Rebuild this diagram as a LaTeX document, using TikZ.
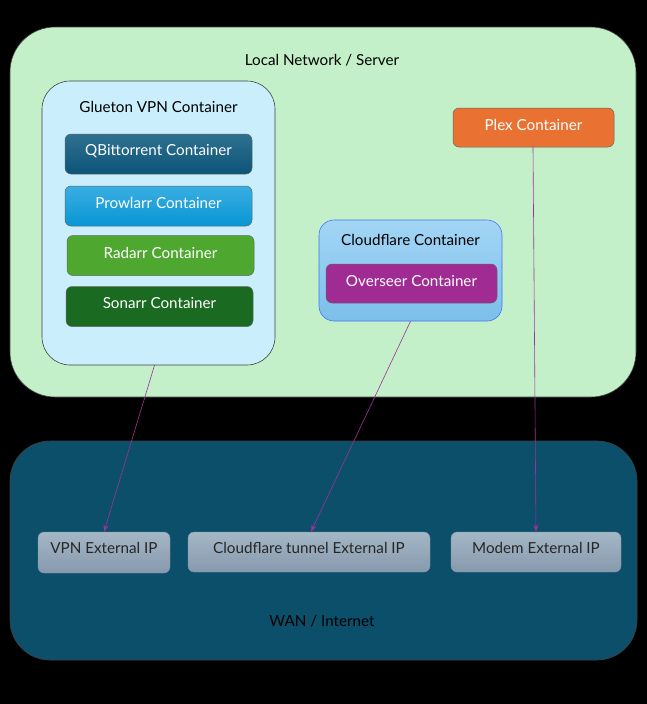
\documentclass[tikz,border=0pt]{standalone}
\usepackage{fontspec}
\setmainfont{Lato}
\usepackage{xcolor}
\usetikzlibrary{arrows.meta}
\definecolor{langreen}{HTML}{C3F0C8}
\definecolor{wanteal}{HTML}{0B4F6B}
\definecolor{gluetonblue}{HTML}{CAEEFB}
\definecolor{qbittop}{HTML}{2F7090}
\definecolor{qbitbot}{HTML}{0B5578}
\definecolor{prowtop}{HTML}{3AAEE2}
\definecolor{prowbot}{HTML}{0896D4}
\definecolor{radarrgreen}{HTML}{4EA72E}
\definecolor{sonarrgreen}{HTML}{1B6A22}
\definecolor{plexorange}{HTML}{E97132}
\definecolor{cftop}{HTML}{A3D5F5}
\definecolor{cfbot}{HTML}{7BBFEB}
\definecolor{overseerpurple}{HTML}{A02B93}
\definecolor{iptop}{HTML}{A4B7C6}
\definecolor{ipbot}{HTML}{8799AD}
\definecolor{linkpurple}{HTML}{A0309A}

\begin{document}
\begin{tikzpicture}[x=1pt,y=-1pt,font=\fontsize{15.2}{18}\selectfont,
  zone/.style={draw=black!75, line width=0.6pt, inner sep=0pt},
  cbox/.style={draw=black!60, line width=0.5pt, rounded corners=6pt, inner sep=0pt,
    text=white, minimum width=187pt, minimum height=40pt},
  ipbox/.style={draw=iptop!80!black, line width=0.4pt, rounded corners=6pt, inner sep=0pt,
    top color=iptop, bottom color=ipbot, text=black!85, minimum height=41pt},
  link/.style={draw=linkpurple, line width=0.6pt, -{Stealth[length=7pt,width=5pt]}}]
% background
\fill[black] (0,0) rectangle (647,704);
% zones
\node[zone, fill=langreen, rounded corners=45pt, minimum width=626pt, minimum height=370pt] (lan) at (323,212) {};
\node[zone, fill=wanteal, rounded corners=40pt, minimum width=627pt, minimum height=219pt] (wan) at (323.5,550.5) {};
\node at (322,60) {Local Network / Server};
\node at (322,621) {WAN / Internet};
% glueton
\node[zone, fill=gluetonblue, rounded corners=28pt, minimum width=233pt, minimum height=284pt] (glueton) at (158.5,223) {};
\node at (158.5,107) {Glueton VPN Container};
\node[cbox, top color=qbittop, bottom color=qbitbot] (qbit) at (158.5,154) {};
\node[white] at (158.5,151) {QBittorrent Container};
\node[cbox, top color=prowtop, bottom color=prowbot] (prowlarr) at (158.5,206) {};
\node[white] at (158.5,203) {Prowlarr Container};
\node[cbox, fill=radarrgreen] (radarr) at (160.5,255.5) {};
\node[white] at (160.5,253) {Radarr Container};
\node[cbox, fill=sonarrgreen] (sonarr) at (159.5,306.5) {};
\node[white] at (159.5,303) {Sonarr Container};
% plex
\node[cbox, fill=plexorange, minimum width=161pt, minimum height=39pt] (plex) at (533.5,127.5) {};
\node[white] at (533.5,125) {Plex Container};
% cloudflare
\node[zone, draw=cfbot!60!blue, top color=cftop, bottom color=cfbot, rounded corners=15pt,
  minimum width=183pt, minimum height=101pt] (cloudflare) at (410.5,270.5) {};
\node at (410.5,240) {Cloudflare Container};
\node[cbox, fill=overseerpurple, minimum width=171pt, minimum height=39pt] (overseer) at (411.5,283.5) {};
\node[white] at (411.5,281) {Overseer Container};
% external ips
\node[ipbox, minimum width=132pt] (vpnip) at (104,552.5) {};
\node[black!85] at (104,548) {VPN External IP};
\node[ipbox, minimum width=242pt, minimum height=40pt] (tunnelip) at (309,552) {};
\node[black!85] at (309,548) {Cloudflare tunnel External IP};
\node[ipbox, minimum width=170pt, minimum height=40pt] (modemip) at (536,552) {};
\node[black!85] at (536,548) {Modem External IP};
% links
\draw[link] ([xshift=-4pt]glueton.south) -- (vpnip.north);
\draw[link] (cloudflare.south) -- ([xshift=2pt]tunnelip.north);
\draw[link] ([xshift=-0.5pt]plex.south) -- (modemip.north);
\end{tikzpicture}
\end{document}
